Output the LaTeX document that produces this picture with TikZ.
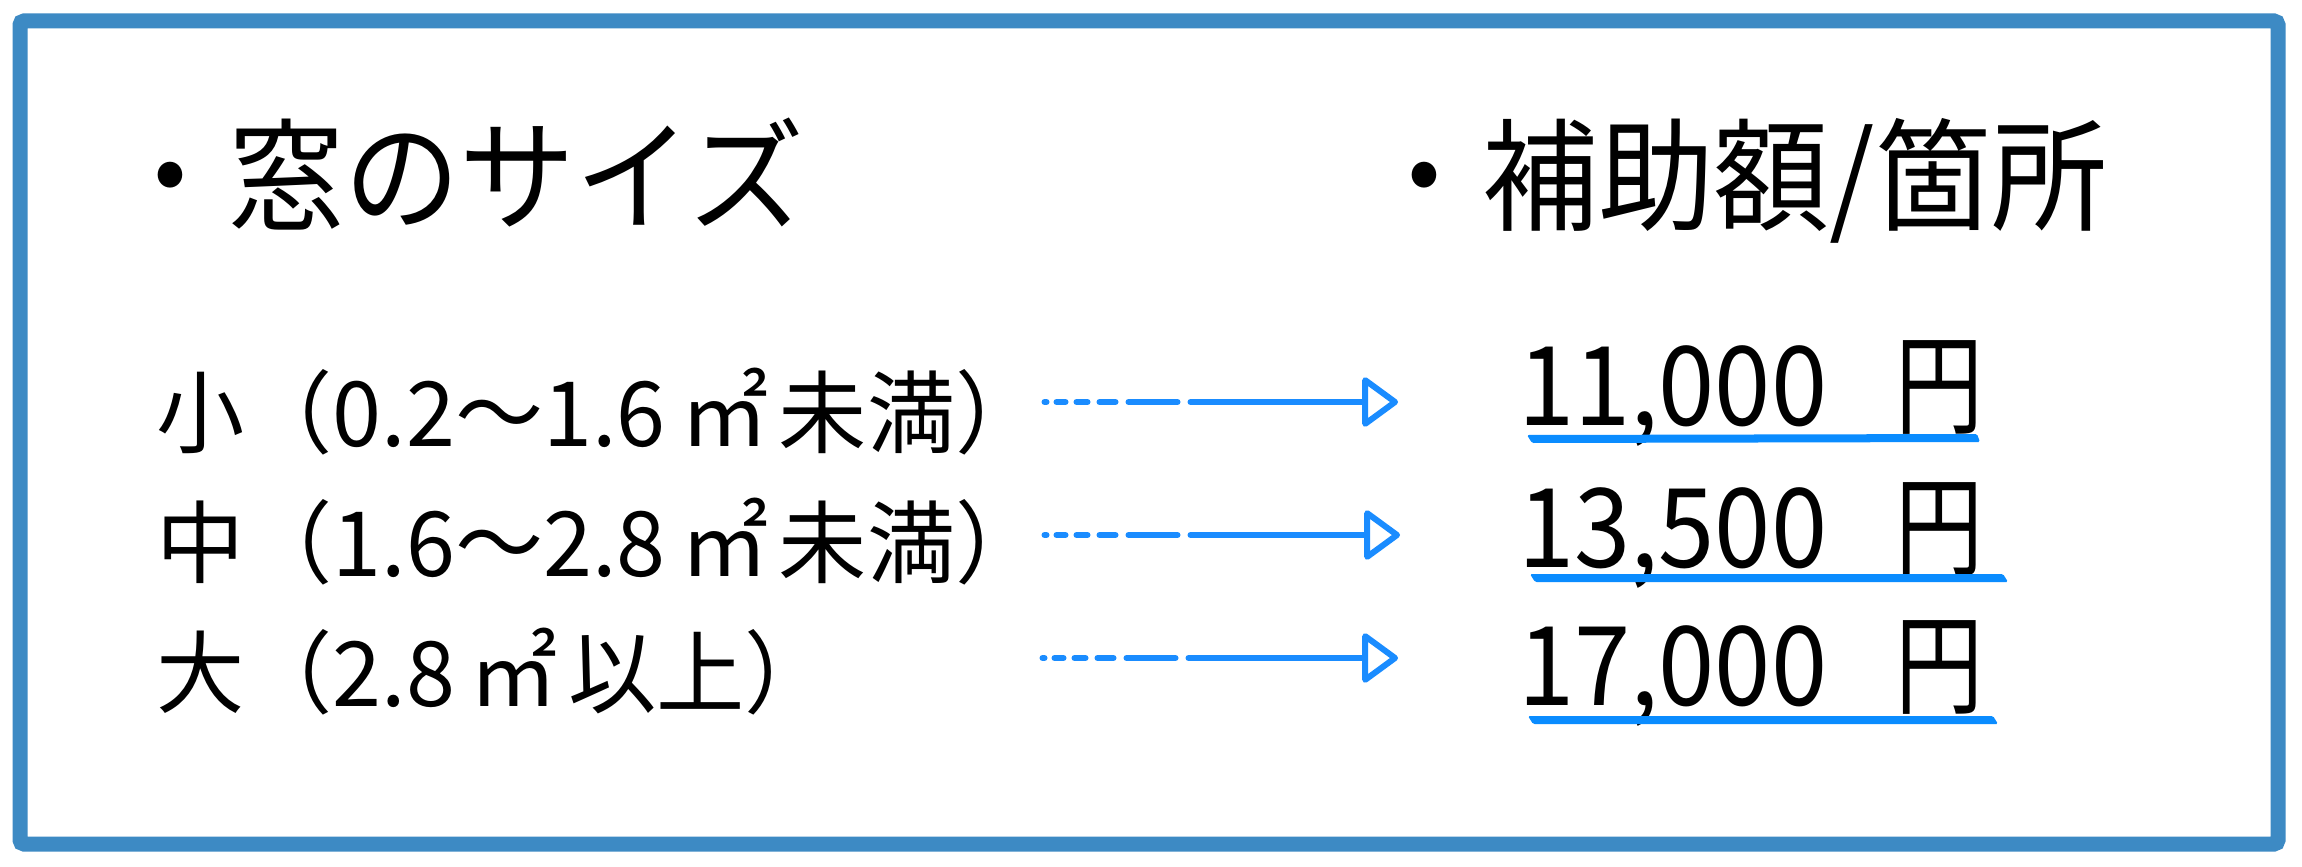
\documentclass[tikz,border=0pt]{standalone}
\usepackage{fontspec}
\usetikzlibrary{arrows.meta}
\newfontfamily\hfont[FakeStretch=0.95]{Noto Sans CJK JP}
\newfontfamily\rfont[FakeStretch=0.98]{Noto Sans CJK JP}
\newfontfamily\afont[FakeStretch=0.92]{Noto Sans CJK JP}
\newfontfamily\yenfont[FakeStretch=0.8]{Noto Sans CJK JP}
\newcommand{\sqm}{\hspace{0.16em}㎡\hspace{0.12em}}
\newcommand{\yen}{\hspace{0.62em}{\yenfont 円}}
\definecolor{frameblue}{HTML}{3D8AC4}
\definecolor{arrowblue}{HTML}{1A8CFF}
\definecolor{ulblue}{HTML}{0A8CFF}
\begin{document}
\begin{tikzpicture}[x=1pt,y=-1pt,
  head/.style={anchor=base west, inner sep=0pt, font=\hfont\fontsize{122}{122}\selectfont},
  rowtext/.style={anchor=base west, inner sep=0pt, font=\rfont\fontsize{90}{90}\selectfont},
  amount/.style={anchor=base west, inner sep=0pt, font=\afont\fontsize{110}{110}\selectfont},
  link/.style={draw=arrowblue, line width=6pt, line cap=round,
    dash pattern=on 2pt off 10pt on 9pt off 11pt on 11pt off 12pt on 16pt off 13pt on 49pt off 13pt on 400pt off 1pt,
    -{Triangle[length=38pt,width=54pt,round,fill=white]}},
  uline/.style={fill=ulblue, rounded corners=1.5pt}]
\fill[white] (0,0) rectangle (2302,867);
\useasboundingbox (0,0) rectangle (2302,867);
\draw[frameblue, line width=15pt, rounded corners=4pt] (20,21) rectangle (2278,844);

\node[head] (h1) at (112,221) {・窓のサイズ};
\node[head] (h2) at (1366,221) {・補助額/箇所};

\node[rowtext] (r1) at (156,446) {小（0.2～1.6\sqm 未満）};
\node[rowtext] (r2) at (156,576) {中（1.6～2.8\sqm 未満）};
\node[rowtext] (r3) at (156,706) {大（2.8\sqm 以上）};

\node[amount] (m1) at (1518,425) {11,000\yen};
\node[amount] (m2) at (1518,567) {13,500\yen};
\node[amount] (m3) at (1518,705) {17,000\yen};

\coordinate (s1) at (1044.5,402); \coordinate (e1) at (1398,402);
\coordinate (s2) at (1044.5,535); \coordinate (e2) at (1400,535);
\coordinate (s3) at (1042.5,658); \coordinate (e3) at (1398,658);
\draw[link] (s1) -- (e1);
\draw[link] (s2) -- (e2);
\draw[link] (s3) -- (e3);

\fill[uline] (1527,435) -- (1977,434) -- (1980,442) -- (1532,443) -- cycle;
\fill[uline] (1530,574) -- (2003,574) -- (2008,582) -- (1535,582) -- cycle;
\fill[uline] (1528,716) -- (1993,716) -- (1998,724) -- (1533,724) -- cycle;
\end{tikzpicture}
\end{document}
